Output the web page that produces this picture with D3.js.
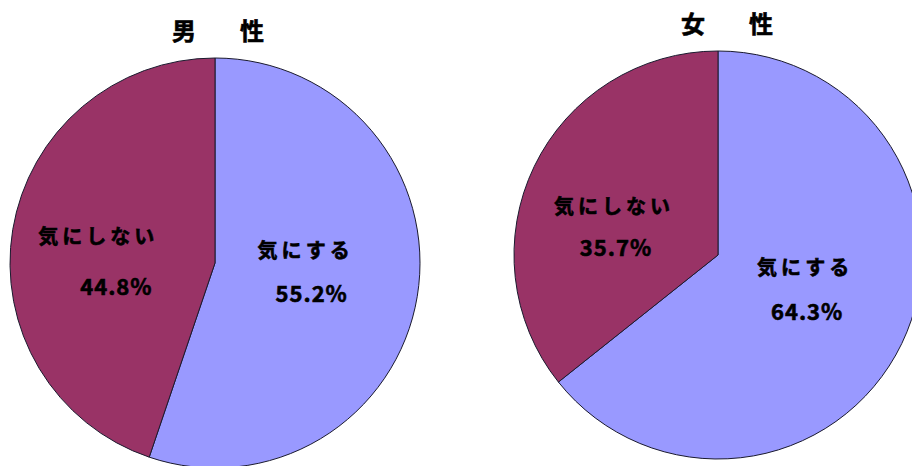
<!DOCTYPE html>
<html>
<head>
<meta charset="utf-8">
<script src="https://cdn.jsdelivr.net/npm/d3@7"></script>
<style>
  body { margin: 0; background: #fff; }
  text { font-family: "Noto Sans CJK JP", "Noto Sans", sans-serif; font-weight: bold; fill: #000; stroke: #000; stroke-width: 0.6px; }
</style>
</head>
<body>
<svg id="chart" width="912" height="466"></svg>
<script>
// data
const titles = ["男\u3000性", "女\u3000性"];
const categories = ["気にする", "気にしない"];
const maleValues = [55.2, 44.8];
const femaleValues = [64.3, 35.7];
const colors = ["#9999ff", "#993366"];

const svg = d3.select("#chart");

// where each pie sits on the page
const pies = [
    { title: titles[0], values: maleValues, cx: 215, cy: 263, r: 205, titleX: 218, titleY: 40 },
    { title: titles[1], values: femaleValues, cx: 718, cy: 255, r: 204, titleX: 727, titleY: 33 }
];

// labels were moved by hand in the original, so nudge them off the centroid
const nameNudge = [[[-8, -21], [-18, -3]], [[-3, -23], [-14, 2]]];
const valueNudge = [[[-2, 23], [0, 48]], [[-1, 22], [-12, 44]]];

const pie = d3.pie().sort(null).value(d => d);

pies.forEach((p, i) => {
    const g = svg.append("g").attr("transform", `translate(${p.cx},${p.cy})`);
    const arc = d3.arc().innerRadius(0).outerRadius(p.r);
    const labelArc = d3.arc().innerRadius(100).outerRadius(100);
    const arcs = pie(p.values);

    g.selectAll("path")
        .data(arcs)
        .enter()
        .append("path")
        .attr("d", arc)
        .attr("fill", (d, j) => colors[j])
        .attr("stroke", "#1a1a2e")
        .attr("stroke-width", 1);

    g.selectAll("text.name")
        .data(arcs)
        .enter()
        .append("text")
        .attr("class", "name")
        .attr("x", (d, j) => labelArc.centroid(d)[0] + nameNudge[i][j][0])
        .attr("y", (d, j) => labelArc.centroid(d)[1] + nameNudge[i][j][1])
        .attr("text-anchor", "middle")
        .style("font-size", "20px")
        .style("letter-spacing", "4px")
        .text((d, j) => categories[j]);

    g.selectAll("text.value")
        .data(arcs)
        .enter()
        .append("text")
        .attr("class", "value")
        .attr("x", (d, j) => labelArc.centroid(d)[0] + valueNudge[i][j][0])
        .attr("y", (d, j) => labelArc.centroid(d)[1] + valueNudge[i][j][1])
        .attr("text-anchor", "middle")
        .style("font-size", "22px")
        .style("letter-spacing", "1px")
        .text(d => d.value.toFixed(1) + "%");

    svg.append("text")
        .attr("x", p.titleX + 5)
        .attr("y", p.titleY)
        .attr("text-anchor", "middle")
        .style("font-size", "24px")
        .style("letter-spacing", "10px")
        .text(p.title);
});
</script>
</body>
</html>
